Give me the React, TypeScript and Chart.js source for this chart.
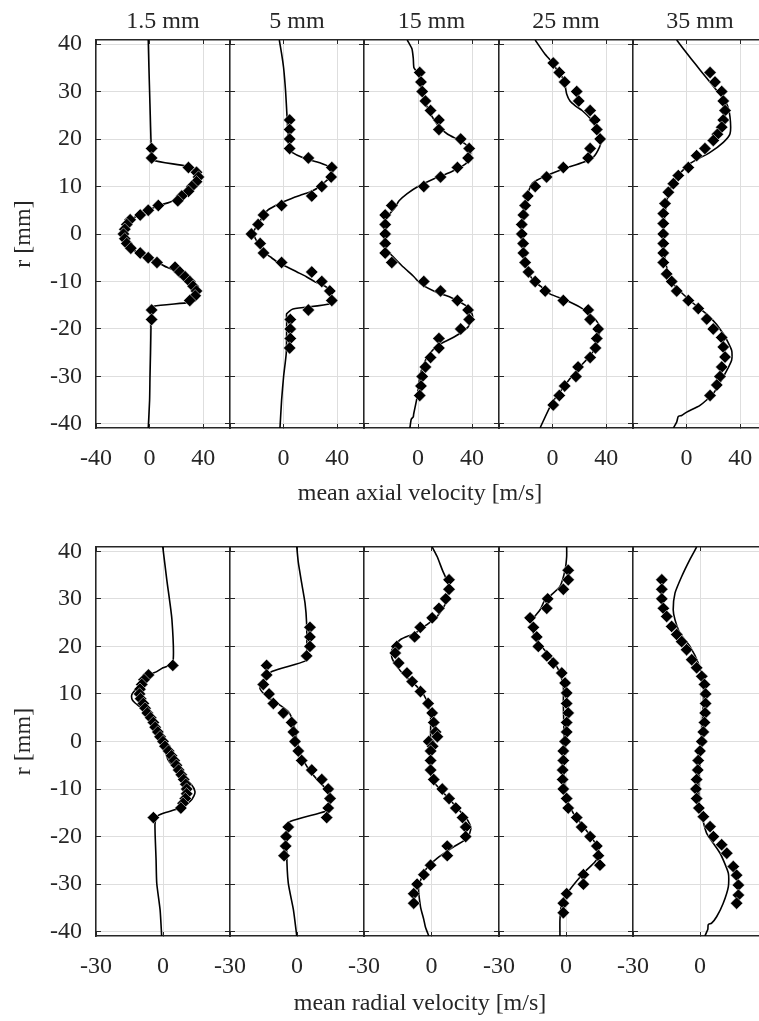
import React, { useEffect, useRef } from 'react';
import { Chart, registerables } from 'chart.js';

Chart.register(...registerables);

const FONT = '"Liberation Serif", "Times New Roman", Times, serif';
const TEXT = '#262626';
const GRID = '#dedede';

// ---------- labels ----------
const stations = ['1.5 mm', '5 mm', '15 mm', '25 mm', '35 mm'];
const axialTitle = 'mean axial velocity [m/s]';
const radialTitle = 'mean radial velocity [m/s]';
const yTitle = 'r [mm]';

// ---------- data: [r (mm), velocity (m/s)] ----------
const axialSim_1_5mm = [[40.85,-1],[35,-0.5],[30,0],[25,0.5],[20,1],[17,1.5],[15.6,2],[14.3,27],[13.5,33],[12.5,36.5],[11.5,37],[10.5,34],[9.5,30],[8.5,26],[7.5,21],[6.7,15],[6,7],[5,-1],[4,-8],[3,-14],[2,-17.5],[1,-19.5],[0,-20],[-1,-19.5],[-2,-17.5],[-3,-14],[-4,-8],[-5,-1],[-6,6],[-7,13],[-8,22],[-9,27],[-10,30.5],[-11,33.5],[-12,36],[-13,37],[-13.8,35],[-14.4,30],[-15.2,3],[-16,1.5],[-18,1],[-20,1],[-25,0.7],[-30,0.3],[-35,0],[-40.85,-1]];
const axialExp_1_5mm = [[18,1.5],[16,1.5],[14,29],[13,35],[12,36.5],[11,35],[10,31.5],[9,29],[8,24],[7,21],[6,6.5],[5,-1],[4,-7],[3,-14.5],[2,-17],[1,-18.5],[0,-19.5],[-1,-18.5],[-2,-17],[-3,-14],[-4,-7],[-5,-1],[-6,5.5],[-7,19],[-8,22.5],[-9,26.5],[-10,30],[-11,32.5],[-12,35],[-13,34],[-14,30],[-16,1.5],[-18,1.5]];

const axialSim_5mm = [[40.85,-3.2],[38,-1.5],[35,0],[30,1.5],[25,2.5],[20,3.5],[18,4],[17.4,5],[16,15],[15,27],[14,35],[13,36.5],[12,35],[11,31],[10,27],[9,21],[8.3,14],[7.5,6],[6.7,-1],[6,-6],[5,-12],[4,-15],[3,-17],[2,-19],[1,-21.5],[0,-22.5],[-1,-21],[-2,-19],[-3,-17],[-4,-14],[-5,-9],[-6.3,-2.7],[-7,3],[-8,10],[-9,17],[-10,23],[-11,31],[-12,35],[-13.3,36],[-14.7,35],[-15.8,7],[-16.8,2.3],[-18,2.3],[-25,2],[-30,0],[-35,-1.5],[-40.85,-2.7]];
const axialExp_5mm = [[24,4.5],[22,4.5],[20,4.5],[18,4.5],[16,18.5],[14,36],[12,35.5],[10,28.5],[8,21],[6,-1.5],[4,-15],[2,-19],[0,-24],[-2,-17.5],[-4,-15],[-6,-1.5],[-8,21],[-10,28.5],[-12,34.5],[-14,36],[-16,18.5],[-18,5],[-20,5],[-22,5],[-24,4.5]];

const axialSim_15mm = [[40.85,-8],[39,-4.5],[37,-3.5],[35,-3],[34,-0.5],[32,1.5],[30,3],[28,5],[26,8],[24,12],[22.5,16],[21,22],[19.6,31.5],[18.3,37.5],[17,39],[16,37.5],[14.8,35.5],[13,24],[11.6,11.5],[10,0],[8.5,-8],[7,-14],[5.6,-17],[3.5,-23],[2,-24.5],[0,-25.5],[-2,-25],[-2.8,-24.3],[-4,-21],[-5.2,-17],[-7,-10.7],[-9,-3],[-10.5,2],[-12.3,14],[-13.3,24],[-15.1,35.5],[-16.5,39.5],[-17.5,40.4],[-19.6,37],[-21.7,26.7],[-23.5,14.3],[-25.9,6.8],[-29.4,1.8],[-34.4,-0.7],[-37.9,-3.2],[-38.5,-3.5],[-39,-5],[-40.85,-6]];
const axialExp_15mm = [[34,1.3],[32,2.2],[30,3.1],[28,5.5],[26,9.3],[24,15.5],[22,15.5],[20,31.6],[18,37.9],[16,37.1],[14,29.2],[12,16.7],[10,4.3],[6,-19.4],[4,-24.3],[2,-24.3],[0,-24.3],[-2,-24.3],[-4,-24.3],[-6,-19.4],[-10,4.3],[-12,16.7],[-14,29.2],[-16,37.1],[-18,37.9],[-20,31.6],[-22,15.5],[-24,15.5],[-26,9.3],[-28,5.5],[-30,3.1],[-32,2.2],[-34,1.3]];

const axialSim_25mm = [[40.85,-13],[38,-6],[36,0],[34,4.5],[32.7,8],[31,9.5],[29.5,10.5],[28,13],[27,17],[26,22],[24,29],[22,33],[20,36.5],[18.3,35],[16.2,30.4],[15.1,22.9],[13.7,8],[12,-6.9],[10.7,-15],[9,-18],[7.8,-19.3],[4.2,-21.8],[0,-23],[-1.4,-23],[-5.6,-20.6],[-8,-18],[-9.8,-14.4],[-11,-9],[-12.6,-2],[-14,10.5],[-15.4,20.4],[-17.5,30.4],[-19.6,35.4],[-22.5,33.4],[-25.2,29.2],[-28.7,18],[-32.3,8],[-35.7,-0.7],[-40.85,-9.4]];
const axialExp_25mm = [[36,0.5],[34,5],[32,9],[30,18],[28,19.5],[26,28],[24,31.5],[22,33],[20,35.5],[18,28],[16,26.5],[14,8],[12,-4.5],[10,-13],[8,-18.5],[6,-20.5],[4,-21.8],[2,-23],[0,-23],[-2,-22],[-4,-21.8],[-6,-20.5],[-8,-18],[-10,-13],[-12,-5.5],[-14,8],[-16,26.6],[-18,28],[-20,34],[-22,33],[-24,32],[-26,28],[-28,19],[-30,17.4],[-32,9],[-34,5],[-36,0.5]];

const axialSim_35mm = [[40.85,-7.4],[37.2,2.5],[33.7,12.5],[30.2,22.5],[27.4,29.9],[24.6,32.4],[21.1,32.4],[19.3,27.4],[17.2,17.5],[14.8,2.5],[12,-7.4],[8.5,-13.6],[4.3,-16.1],[0,-17.4],[-2,-17.4],[-7,-14.9],[-10.5,-9.9],[-14,2.5],[-17.5,17.5],[-21,27.4],[-24.5,33.6],[-26.6,33.6],[-30.1,27.4],[-33.6,19.9],[-36.1,10],[-37.5,0.1],[-38.2,-3.7],[-38.4,-6.2],[-39.6,-7.4],[-40.85,-9.9]];
const axialExp_35mm = [[34,17.5],[32,21.2],[30,26.2],[28,27.4],[26,28.7],[24,27.4],[22.5,26.2],[21,23],[19.7,19.9],[18,13.7],[16.5,7.5],[14,1.3],[12.3,-6.2],[10.6,-9.9],[8.8,-13.6],[6.4,-16.1],[4.3,-17.4],[2.2,-17.4],[0,-17.4],[-2,-17.4],[-4,-17.4],[-6,-17.4],[-8.4,-14.9],[-10,-11.1],[-12,-7.4],[-14,1.3],[-15.7,8.7],[-17.9,15],[-20,19.9],[-21.8,26.2],[-23.8,27.4],[-25.9,28.7],[-28,26.2],[-30,24.9],[-31.8,22.5],[-34,17.5]];

const radialSim_1_5mm = [[40.9,-0.1],[34,1.7],[25.6,4],[16.5,4.4],[15.5,0],[14.7,-2.8],[13.7,-7.3],[11.9,-10.3],[10.5,-13],[9.8,-14],[8.8,-13.8],[8.1,-12.5],[6.7,-8.8],[3.2,-4.3],[-0.3,0.1],[-3.9,2.3],[-6.7,7.6],[-9.1,12.8],[-10.5,14.3],[-11.5,13.8],[-12.6,12.1],[-14,7.6],[-15.1,0.1],[-15.8,-2.8],[-17.5,-3.6],[-24.9,-3.1],[-29.8,-2.8],[-35.4,-1.3],[-40.9,-0.6]];
const radialExp_1_5mm = [[16,4.4],[14,-6.5],[13,-8.5],[12,-9.5],[11,-10.3],[10,-10.5],[9,-10],[8,-8.8],[7,-8],[6,-7],[5,-5.5],[4,-4.3],[3,-3.5],[2,-2.3],[1,-1.3],[0,0],[-1,0.9],[-2,2.5],[-3,3.8],[-4,5],[-5,6],[-6,7],[-7,8.2],[-8,9.3],[-9,10.2],[-10,10.6],[-11,10.6],[-12,10],[-13,9],[-14,8],[-16,-4.3]];

const radialSim_5mm = [[40.9,-0.1],[37.6,0.6],[33.3,2.1],[29.1,3.6],[24.9,4.3],[18,4.3],[16.9,3.6],[14.7,-11.3],[13,-14.5],[11.2,-16.6],[9.5,-13.6],[8.1,-9.1],[6.3,-3.9],[3.9,-1.6],[0.4,-0.1],[-3.2,2.1],[-6,5.5],[-8,9],[-10,13],[-12,15],[-14,14.5],[-14.7,12.5],[-16.8,-3.1],[-17.9,-4.3],[-23.5,-4.6],[-29.8,-3.9],[-35.4,-1.6],[-40.9,-0.1]];
const radialExp_5mm = [[24,5.8],[22,5.8],[20,5.8],[18,4.3],[16,-13.6],[14,-13.6],[12,-15.1],[10,-12.5],[8,-10.6],[6,-6.1],[4,-2.4],[2,-1.6],[0,-0.9],[-2,0.6],[-4,2.1],[-6,6.6],[-8,11.1],[-10,14],[-12,14.8],[-14,14],[-16,13.3],[-18,-3.9],[-20,-4.9],[-22,-5.1],[-24,-5.8]];

const radialSim_15mm = [[40.9,0.3],[38.9,2.5],[36.1,4.8],[33.7,7],[32.3,7.5],[29.1,6.3],[26.3,2.5],[24.6,-2],[22.8,-7.2],[21.4,-13.9],[19.3,-17.6],[17.6,-17.6],[15.8,-15.4],[13.7,-11.6],[11.9,-7.2],[9.8,-3.4],[7.4,-1.2],[5.3,-0.4],[2,-0.4],[-2,-0.5],[-5,-0.3],[-8.1,0.3],[-10.5,4.8],[-14,11.5],[-16.5,16],[-18.2,17.5],[-20.3,16],[-22.1,10],[-24.5,2.6],[-27,-2.7],[-30.5,-5.7],[-34.7,-4.9],[-37.5,-3.4],[-39,-2.7],[-40.9,-1.2]];
const radialExp_15mm = [[34,7.8],[32,7.8],[30,6.3],[28,3.3],[26,0.3],[24,-5],[22,-7.5],[20,-15.4],[18.6,-16.1],[16.5,-14.6],[14.4,-10.9],[12.6,-8.6],[10.5,-4.9],[8,-1.5],[6,0.3],[4,1],[2,1.8],[1,2.6],[0,-1.2],[-1,0.5],[-2,-0.4],[-4,-0.4],[-6,-0.4],[-8,1],[-10,4.8],[-12,7.8],[-14,10.8],[-16,13.8],[-18,15.2],[-20,15.2],[-22,7],[-24,7],[-26,-0.4],[-28,-3.4],[-30,-6.4],[-32,-7.9],[-34,-7.9]];

const radialSim_25mm = [[40.9,0.3],[38.9,0.3],[36.1,-0.4],[32.6,-2.7],[30.9,-6.4],[29.8,-9.4],[27.7,-11.6],[25.3,-15.4],[22.8,-14.6],[20.4,-11.6],[17.9,-7.2],[15.1,-3.4],[11.6,-1.2],[8.1,-1.2],[4,-1],[0,-0.8],[-4,-0.8],[-6,-1],[-11.6,0],[-15.1,3.3],[-17.9,7.8],[-20.7,12.2],[-23.5,15.2],[-25.3,13],[-27.7,7.8],[-31.6,1],[-34,-1.9],[-37.5,-2.7],[-40.9,-2.7]];
const radialExp_25mm = [[36,1],[34,1],[32,-1.2],[30,-8.2],[28,-8.6],[26,-16.1],[24,-14.6],[22,-13.1],[20,-12.4],[18,-8.6],[16.5,-5.7],[14.4,-1.9],[12.3,-0.4],[10.2,0.3],[8,0.3],[6,1],[4,0.3],[2,0.3],[0,-0.4],[-2,-1.2],[-4,-1.2],[-6,-1.5],[-8,-1.5],[-10,-1.2],[-12,0.3],[-14,1],[-16,4.8],[-18,7],[-20,10.8],[-22,13.8],[-24,14.5],[-26,15.2],[-28,7.8],[-30,7.8],[-32,0.3],[-34,-1.2],[-36,-1.2]];

const radialSim_35mm = [[40.9,-1.5],[38.3,-4.5],[34.7,-8.2],[31.2,-11.2],[27.7,-12],[25.6,-11.2],[22.8,-9],[20,-4.5],[16.5,-0.8],[12.3,1.5],[8,1.5],[4,1],[0,0.5],[-4,0],[-8,-0.5],[-12,-0.5],[-14,0],[-16,1],[-19.3,3],[-23.5,9],[-27.7,12.7],[-30.5,12.7],[-34,10.4],[-36.8,7.5],[-38.2,5.2],[-38.5,3.7],[-39.5,3.5],[-40.9,2.2]];
const radialExp_35mm = [[34,-17.1],[32,-17.1],[30,-17.1],[28,-16.4],[26.3,-14.9],[24.2,-12.7],[22.5,-10.4],[21,-8.2],[19.3,-6],[17.2,-3.7],[15.5,-1.5],[13.7,0.8],[12,2],[10,2.5],[8,2.5],[6,2.3],[4,2],[2,1.5],[0,0.8],[-2,0],[-4,-0.8],[-6,-1],[-8,-1.5],[-10,-1.8],[-12,-1.5],[-14,-0.5],[-15.8,1.5],[-17.9,4.5],[-20,6],[-21.7,9.7],[-23.5,12],[-26.3,14.9],[-28.1,16.4],[-30.2,17.2],[-32.3,17.2],[-34,16.4]];

const axialSims = [axialSim_1_5mm, axialSim_5mm, axialSim_15mm, axialSim_25mm, axialSim_35mm];
const axialExps = [axialExp_1_5mm, axialExp_5mm, axialExp_15mm, axialExp_25mm, axialExp_35mm];
const radialSims = [radialSim_1_5mm, radialSim_5mm, radialSim_15mm, radialSim_25mm, radialSim_35mm];
const radialExps = [radialExp_1_5mm, radialExp_5mm, radialExp_15mm, radialExp_25mm, radialExp_35mm];

// ---------- layout ----------
const panelLefts = [96, 230, 364, 499, 633];
const panelWidth = 134;
const FS = 24;
const LH = FS * 1.2;

const rows = [
  { top: 0, h: 520, pTop: 40, pBottom: 428, xMin: -40, xMax: 60, step: 40, rMin: -40.85, rMax: 40.85, title: axialTitle, titlePadB: 11.6, sims: axialSims, exps: axialExps, hide: (v: number, i: number) => i > 0 && v === -40 },
  { top: 520, h: 501, pTop: 27, pBottom: 416, xMin: -30, xMax: 30, step: 30, rMin: -40.9, rMax: 40.9, title: radialTitle, titlePadB: 3, sims: radialSims, exps: radialExps, hide: (v: number) => v === 30 },
];

function zeroPad(s: any) {
  s.paddingTop = 0;
  s.paddingBottom = 0;
  s.paddingLeft = 0;
  s.paddingRight = 0;
}

function Panel({ row, idx }: { row: number; idx: number }) {
  const ref = useRef<HTMLCanvasElement>(null);
  const cfg = rows[row];
  const cw = idx === 2 ? 840 : 780;
  useEffect(() => {
    const left = panelLefts[idx];
    const right = idx < 4 ? panelLefts[idx + 1] : panelLefts[idx] + panelWidth;
    const hasTitle = idx === 2;
    const bottomH = cfg.h - cfg.pBottom - (hasTitle ? LH + cfg.titlePadB : 0);
    const font = { family: FONT, size: FS, lineHeight: 1.2 };
    const tickGrid = { color: GRID, tickColor: TEXT, tickLength: -5, tickWidth: 1, lineWidth: 1 };
    const border = { display: true, color: TEXT, width: 1.5 };
    const sim = cfg.sims[idx];
    const exp = cfg.exps[idx];
    const chart = new Chart(ref.current as HTMLCanvasElement, {
      type: 'scatter',
      data: {
        datasets: [
          {
            data: exp.map(([r, v]) => ({ x: v, y: r })),
            showLine: false,
            pointStyle: 'rectRot',
            pointRadius: 6.2,
            pointBackgroundColor: '#000',
            pointBorderColor: '#fff',
            pointBorderWidth: 0.5,
          },
          {
            data: sim.map(([r, v]) => ({ x: v, y: r })),
            showLine: true,
            pointRadius: 0,
            borderColor: '#000',
            borderWidth: 1.6,
            tension: 0.2,
          },
        ],
      } as any,
      options: {
        animation: false,
        responsive: false,
        events: [],
        layout: { padding: 0 },
        plugins: {
          legend: { display: false },
          tooltip: { enabled: false },
          title: {
            display: hasTitle,
            text: cfg.title,
            position: 'bottom',
            color: TEXT,
            font: { family: FONT, size: FS, weight: 'normal', lineHeight: 1.2 },
            padding: { top: 0, bottom: cfg.titlePadB },
          },
        },
        scales: {
          x: {
            type: 'linear',
            position: 'bottom',
            min: cfg.xMin,
            max: cfg.xMax,
            grid: { ...tickGrid, drawOnChartArea: true },
            border,
            ticks: {
              stepSize: cfg.step,
              includeBounds: false,
              autoSkip: false,
              maxRotation: 0,
              padding: 21,
              color: TEXT,
              font,
              callback: (v: any) => (cfg.hide(Number(v), idx) ? '' : String(v)),
            },
            afterFit: (s: any) => { s.height = bottomH; zeroPad(s); },
          },
          x2: {
            type: 'linear',
            position: 'top',
            min: cfg.xMin,
            max: cfg.xMax,
            grid: { ...tickGrid, drawOnChartArea: false },
            border,
            ticks: { stepSize: cfg.step, includeBounds: false, display: false },
            title: {
              display: row === 0,
              text: stations[idx],
              color: TEXT,
              font,
              padding: { top: 7, bottom: 0 },
            },
            afterFit: (s: any) => { s.height = cfg.pTop; zeroPad(s); },
          },
          y: {
            type: 'linear',
            position: 'left',
            min: cfg.rMin,
            max: cfg.rMax,
            grid: { ...tickGrid, drawOnChartArea: true },
            border,
            ticks: {
              stepSize: 10,
              includeBounds: false,
              display: idx === 0,
              padding: 19,
              color: TEXT,
              font,
            },
            title: {
              display: idx === 0,
              text: yTitle,
              color: TEXT,
              font,
              padding: { top: 9, bottom: 0 },
            },
            afterFit: (s: any) => { s.width = left; zeroPad(s); },
          },
          y2: {
            type: 'linear',
            position: 'right',
            min: cfg.rMin,
            max: cfg.rMax,
            grid: { ...tickGrid, drawOnChartArea: false },
            border,
            ticks: { stepSize: 10, includeBounds: false, display: false },
            afterFit: (s: any) => { s.width = cw - right; zeroPad(s); },
          },
        },
      } as any,
    });
    return () => chart.destroy();
  }, []);
  return (
    <canvas
      ref={ref}
      width={cw}
      height={cfg.h}
      style={{ position: 'absolute', left: 0, top: cfg.top, width: cw, height: cfg.h }}
    />
  );
}

export default function App() {
  return (
    <div
      style={{
        position: 'absolute',
        left: 0,
        top: 0,
        width: 759,
        height: 1021,
        overflow: 'hidden',
        background: '#fff',
      }}
    >
      {[0, 1].map((row) =>
        [0, 1, 2, 3, 4].map((idx) => <Panel key={`${row}-${idx}`} row={row} idx={idx} />)
      )}
    </div>
  );
}
